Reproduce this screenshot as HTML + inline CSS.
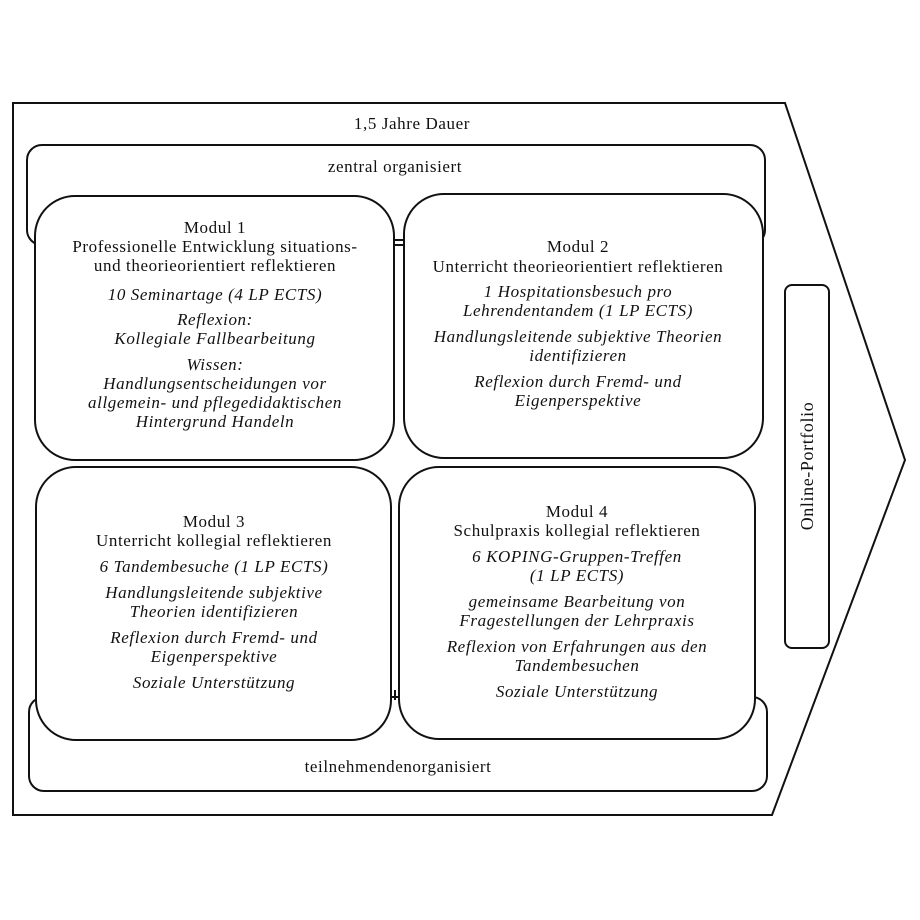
<!DOCTYPE html>
<html><head><meta charset="utf-8"><style>
html,body{margin:0;padding:0;background:#fff;}
svg{display:block;}
text{font-family:"Liberation Serif",serif;font-size:17px;letter-spacing:0.6px;fill:#111;text-anchor:middle;}
.i{font-style:italic;}
</style></head><body>
<svg width="920" height="920" viewBox="0 0 920 920" xmlns="http://www.w3.org/2000/svg">
<g fill="none" stroke="#111" stroke-width="2">
<polygon points="13,103 785,103 905,460 772,815 13,815" fill="#fff"/>
<rect x="27" y="145" width="738" height="100" rx="15" fill="#fff"/>
<rect x="29" y="697" width="738" height="94" rx="15" fill="#fff"/>
<line x1="393" y1="240" x2="405" y2="240"/>
<line x1="395" y1="690" x2="395" y2="700"/>
<rect x="35" y="196" width="359" height="264" rx="40" fill="#fff"/>
<rect x="404" y="194" width="359" height="264" rx="40" fill="#fff"/>
<rect x="36" y="467" width="355" height="273" rx="40" fill="#fff"/>
<rect x="399" y="467" width="356" height="272" rx="40" fill="#fff"/>
<rect x="785" y="285" width="44" height="363" rx="7" fill="#fff"/>
</g>
<text x="412" y="129">1,5 Jahre Dauer</text>
<text x="395" y="172">zentral organisiert</text>
<text x="398" y="772">teilnehmendenorganisiert</text>
<text x="813" y="466" transform="rotate(-90 813 466)" style="font-size:18px">Online-Portfolio</text>

<text x="215" y="233">Modul 1</text>
<text x="215" y="252">Professionelle Entwicklung situations-</text>
<text x="215" y="271">und theorieorientiert reflektieren</text>
<text x="215" y="300" class="i">10 Seminartage (4 LP ECTS)</text>
<text x="215" y="325" class="i">Reflexion:</text>
<text x="215" y="344" class="i">Kollegiale Fallbearbeitung</text>
<text x="215" y="370" class="i">Wissen:</text>
<text x="215" y="389" class="i">Handlungsentscheidungen vor</text>
<text x="215" y="408" class="i">allgemein- und pflegedidaktischen</text>
<text x="215" y="427" class="i">Hintergrund Handeln</text>

<text x="578" y="252">Modul 2</text>
<text x="578" y="272">Unterricht theorieorientiert reflektieren</text>
<text x="578" y="297" class="i">1 Hospitationsbesuch pro</text>
<text x="578" y="316" class="i">Lehrendentandem (1 LP ECTS)</text>
<text x="578" y="342" class="i">Handlungsleitende subjektive Theorien</text>
<text x="578" y="361" class="i">identifizieren</text>
<text x="578" y="387" class="i">Reflexion durch Fremd- und</text>
<text x="578" y="406" class="i">Eigenperspektive</text>

<text x="214" y="527">Modul 3</text>
<text x="214" y="546">Unterricht kollegial reflektieren</text>
<text x="214" y="572" class="i">6 Tandembesuche (1 LP ECTS)</text>
<text x="214" y="598" class="i">Handlungsleitende subjektive</text>
<text x="214" y="617" class="i">Theorien identifizieren</text>
<text x="214" y="643" class="i">Reflexion durch Fremd- und</text>
<text x="214" y="662" class="i">Eigenperspektive</text>
<text x="214" y="688" class="i">Soziale Unterstützung</text>

<text x="577" y="517">Modul 4</text>
<text x="577" y="536">Schulpraxis kollegial reflektieren</text>
<text x="577" y="562" class="i">6 KOPING-Gruppen-Treffen</text>
<text x="577" y="581" class="i">(1 LP ECTS)</text>
<text x="577" y="607" class="i">gemeinsame Bearbeitung von</text>
<text x="577" y="626" class="i">Fragestellungen der Lehrpraxis</text>
<text x="577" y="652" class="i">Reflexion von Erfahrungen aus den</text>
<text x="577" y="671" class="i">Tandembesuchen</text>
<text x="577" y="697" class="i">Soziale Unterstützung</text>
</svg>
</body></html>
